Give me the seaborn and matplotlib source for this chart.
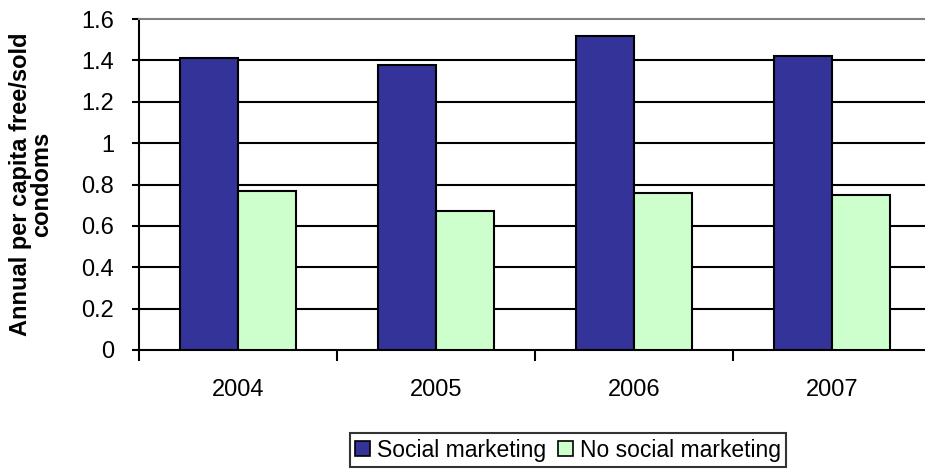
import matplotlib
matplotlib.use("Agg")
import matplotlib.pyplot as plt
import seaborn as sns
import pandas as pd
from matplotlib.patches import Patch
from matplotlib.ticker import FixedLocator

years = ["2004", "2005", "2006", "2007"]
social_marketing = [1.41, 1.38, 1.52, 1.42]
no_social_marketing = [0.77, 0.67, 0.76, 0.75]
series_names = ["Social marketing", "No social marketing"]
y_ticks = [0, 0.2, 0.4, 0.6, 0.8, 1.0, 1.2, 1.4, 1.6]
y_tick_labels = ["0", "0.2", "0.4", "0.6", "0.8", "1", "1.2", "1.4", "1.6"]
colors = ["#333399", "#CCFFCC"]

df = pd.DataFrame({
    "Year": years * 2,
    "Value": social_marketing + no_social_marketing,
    "Series": [series_names[0]] * 4 + [series_names[1]] * 4,
})

sns.set_theme(style="white")
plt.rcParams["font.family"] = ["Liberation Sans", "DejaVu Sans"]
plt.rcParams["text.color"] = "black"
plt.rcParams["axes.labelcolor"] = "black"
plt.rcParams["xtick.color"] = "black"
plt.rcParams["ytick.color"] = "black"

fig = plt.figure(figsize=(9.25, 4.75), dpi=100)
ax = fig.add_axes([139 / 925, 125 / 475, 792 / 925, 331 / 475])

sns.barplot(data=df, x="Year", y="Value", hue="Series", order=years,
            hue_order=series_names, palette=colors, width=0.586,
            edgecolor="black", linewidth=1.5, saturation=1, ax=ax,
            legend=False, zorder=3)

ax.set_ylim(0, 1.6)
ax.set_xlim(-0.5, 3.5)
ax.set_yticks(y_ticks)
ax.set_yticklabels(y_tick_labels, fontsize=17, color="black")

# black value gridlines; the top of the plot area is a grey border
for v in y_ticks[1:-1]:
    ax.axhline(v, color="black", linewidth=1.5, zorder=1)
ax.spines["top"].set_visible(True)
ax.spines["top"].set_color("#808080")
ax.spines["top"].set_linewidth(1.5)
ax.spines["right"].set_visible(False)
for side in ["left", "bottom"]:
    ax.spines[side].set_color("black")
    ax.spines[side].set_linewidth(1.5)

# category labels centred, tick marks on category boundaries
ax.set_xticks(range(len(years)))
ax.set_xticklabels(years, fontsize=17, color="black")
ax.xaxis.set_minor_locator(FixedLocator([-0.5, 0.5, 1.5, 2.5, 3.5]))
ax.tick_params(axis="x", which="major", length=0, pad=21)
ax.tick_params(axis="x", which="minor", length=8, width=1.5, color="black",
               direction="out", bottom=True)
ax.tick_params(axis="y", length=5, width=1.5, color="black", direction="out",
               left=True, pad=13)

ax.set_xlabel("")
ax.set_ylabel("Annual per capita free/sold\ncondoms", fontsize=17,
              fontweight="bold", linespacing=0.9, color="black")
ax.yaxis.set_label_coords((53 - 139) / 792, 0.5)

handles = [Patch(facecolor=c, edgecolor="black", linewidth=1.2) for c in colors]
leg = fig.legend(handles, series_names, loc="center",
                 bbox_to_anchor=(568 / 925, 25 / 475), ncol=2, fontsize=16.5,
                 frameon=True, fancybox=False, handlelength=0.65,
                 handleheight=0.65, handletextpad=0.3, columnspacing=0.5,
                 borderpad=0.25, borderaxespad=0, labelcolor="black")
leg.get_frame().set_edgecolor("black")
leg.get_frame().set_linewidth(1.5)

fig.savefig("out.png", dpi=100)
